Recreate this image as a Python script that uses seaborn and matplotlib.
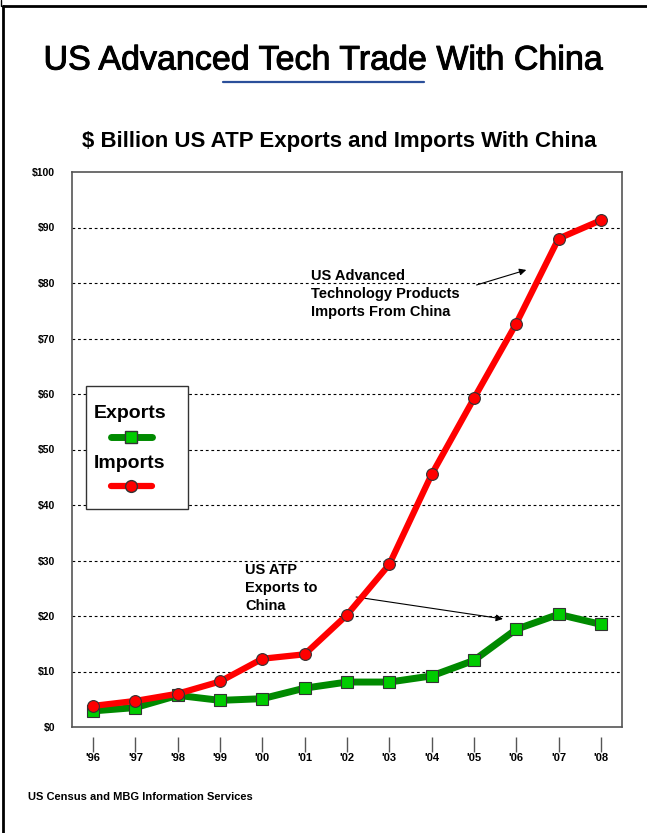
import numpy as np
import pandas as pd
import matplotlib
matplotlib.use("Agg")
import matplotlib.pyplot as plt
import matplotlib.patheffects as pe
from matplotlib.lines import Line2D
from matplotlib.patches import Rectangle
import seaborn as sns

sns.set_style("white")
plt.rcParams['font.family'] = ['Liberation Sans', 'DejaVu Sans']
plt.rcParams['text.color'] = 'black'
plt.rcParams['xtick.color'] = 'black'
plt.rcParams['ytick.color'] = 'black'

# data ($ billion)
years = ["'96", "'97", "'98", "'99", "'00", "'01", "'02", "'03", "'04", "'05", "'06", "'07", "'08"]
imports = [3.8, 4.7, 6.0, 8.2, 12.3, 13.1, 20.2, 29.3, 45.5, 59.2, 72.7, 88.0, 91.3]
exports = [2.9, 3.5, 5.7, 4.8, 5.1, 7.0, 8.1, 8.1, 9.2, 12.0, 17.6, 20.3, 18.5]
yticks = list(range(0, 101, 10))

df = pd.DataFrame({"pos": np.arange(len(years)), "Imports": imports, "Exports": exports})

fig = plt.figure(figsize=(6.47, 8.33), dpi=100)
ax = fig.add_axes([72 / 647, 1 - 727 / 833, 550 / 647, 555 / 833])

sns.lineplot(data=df, x="pos", y="Exports", ax=ax, color="#008a00", lw=5,
             marker="s", markersize=9, markerfacecolor="#00cc00",
             markeredgecolor="#333333", markeredgewidth=0.8, zorder=3)
sns.lineplot(data=df, x="pos", y="Imports", ax=ax, color="#ff0000", lw=4.5,
             marker="o", markersize=8.5, markerfacecolor="#ff0000",
             markeredgecolor="#333333", markeredgewidth=0.8, zorder=4)

ax.set_xlim(-0.5, 12.5)
ax.set_ylim(0, 100)
ax.set_xlabel("")
ax.set_ylabel("")
ax.set_yticks(yticks)
ax.set_yticklabels(["$%d" % v for v in yticks], fontsize=7.5, fontweight="bold")
ax.tick_params(axis="y", length=0, pad=12)
ax.set_xticks(df["pos"])
ax.tick_params(axis="x", length=0, labelbottom=False)
for v in yticks[1:-1]:
    ax.axhline(v, color="black", lw=0.8, ls=(0, (2.5, 2.5)), zorder=1)
for s in ax.spines.values():
    s.set_color("#555555")
    s.set_linewidth(1.2)

# separate tick row under the plot box
sec = ax.secondary_xaxis(-0.018)
sec.set_xticks(df["pos"])
sec.set_xticklabels(years, fontsize=8, fontweight="bold")
sec.spines["bottom"].set_visible(False)
sec.tick_params(axis="x", length=10.5, width=1, color="#555555", pad=1)

# legend box
ax.add_patch(Rectangle((0.025, 0.392), 0.185, 0.223, transform=ax.transAxes,
                       facecolor="white", edgecolor="#333333", lw=1, zorder=5))
ax.text(0.04, 0.564, "Exports", transform=ax.transAxes, fontsize=14,
        fontweight="bold", va="center", ha="left", zorder=6)
ax.add_line(Line2D([0.07, 0.146], [0.522, 0.522], transform=ax.transAxes,
                   color="#008a00", lw=5, solid_capstyle="round", zorder=6))
ax.plot([0.108], [0.522], transform=ax.transAxes, marker="s", markersize=9,
        markerfacecolor="#00cc00", markeredgecolor="#333333", zorder=7)
ax.text(0.04, 0.474, "Imports", transform=ax.transAxes, fontsize=14,
        fontweight="bold", va="center", ha="left", zorder=6)
ax.add_line(Line2D([0.07, 0.146], [0.434, 0.434], transform=ax.transAxes,
                   color="#ff0000", lw=4.5, solid_capstyle="round", zorder=6))
ax.plot([0.108], [0.434], transform=ax.transAxes, marker="o", markersize=8.5,
        markerfacecolor="#ff0000", markeredgecolor="#333333", zorder=7)

# annotations
ax.annotate("", xy=(10.3, 82.5), xytext=(9.0, 79.5),
            arrowprops=dict(arrowstyle="-|>", color="black", lw=0.8, mutation_scale=10))
ax.text(5.15, 82.5, "US Advanced\nTechnology Products\nImports From China",
        fontsize=10.5, fontweight="bold", va="top", ha="left", linespacing=1.38)
ax.annotate("", xy=(9.75, 19.4), xytext=(6.15, 23.5),
            arrowprops=dict(arrowstyle="-|>", color="black", lw=0.8, mutation_scale=10))
ax.text(3.6, 29.6, "US ATP\nExports to\nChina", fontsize=10.5, fontweight="bold",
        va="top", ha="left", linespacing=1.38)

# titles, underline, source
fig.text(0.5, 1 - 61 / 833, "US Advanced Tech Trade With China", fontsize=24.5,
         ha="center", va="center",
         path_effects=[pe.withStroke(linewidth=0.7, foreground="black")])
fig.add_artist(Line2D([223 / 647, 424 / 647], [1 - 82 / 833, 1 - 82 / 833],
                      color="#2b4f9a", lw=1.6))
fig.text(339 / 647, 1 - 141 / 833, "$ Billion US ATP Exports and Imports With China",
         fontsize=16, fontweight="bold", ha="center", va="center")
fig.text(28 / 647, 1 - 797 / 833, "US Census and MBG Information Services",
         fontsize=8, fontweight="bold", ha="left", va="center")

# slide frame
fig.add_artist(Line2D([3 / 647, 1], [1 - 6 / 833, 1 - 6 / 833], color="black", lw=2))
fig.add_artist(Line2D([3 / 647, 3 / 647], [0, 1 - 6 / 833], color="black", lw=2))
fig.add_artist(Line2D([1 / 647, 1 / 647], [1, 1 - 6 / 833], color="black", lw=1))

fig.savefig("out.png", dpi=100)
